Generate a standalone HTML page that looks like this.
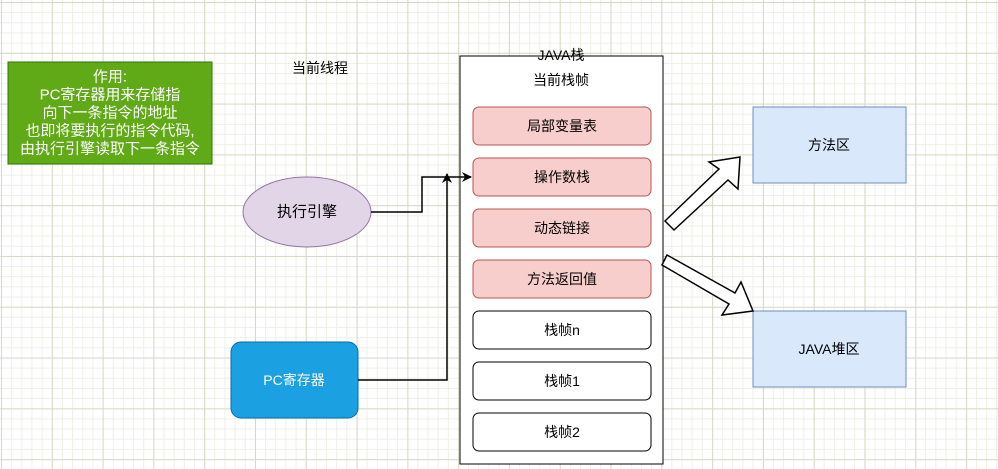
<!DOCTYPE html>
<html><head><meta charset="utf-8"><style>
body{margin:0;width:998px;height:469px;overflow:hidden;background:#fff;
background-image:linear-gradient(#d8d8c8 1px,transparent 1px),linear-gradient(90deg,#d8d8c8 1px,transparent 1px),linear-gradient(#efefe6 1px,transparent 1px),linear-gradient(90deg,#efefe6 1px,transparent 1px);
background-size:50.8px 50.8px,50.8px 50.8px,10.16px 10.16px,10.16px 10.16px;background-position:1px 2px,1px 2px,1px 2px,1px 2px;}
text{font-family:"Liberation Sans","Noto Sans CJK SC",sans-serif;font-size:14px;text-anchor:middle;dominant-baseline:central}
.g{font-size:15px}
</style></head><body>
<svg width="998" height="469" style="position:absolute;left:0;top:0">
<defs><marker id="a" markerWidth="10" markerHeight="10" refX="9" refY="5" orient="auto" markerUnits="userSpaceOnUse"><path d="M0,0 L10,5 L0,10 L3,5z" fill="#000"/></marker></defs>
<rect x="8" y="62" width="204" height="102" fill="#60a917" stroke="#2d7600"/>
<text class="g" x="110" y="77" fill="#fff">作用:</text>
<text class="g" x="110" y="95" fill="#fff">PC寄存器用来存储指</text>
<text class="g" x="110" y="113" fill="#fff">向下一条指令的地址</text>
<text class="g" x="110" y="131" fill="#fff">也即将要执行的指令代码,</text>
<text class="g" x="110" y="149" fill="#fff">由执行引擎读取下一条指令</text>
<text x="320" y="68">当前线程</text>
<ellipse cx="307" cy="212" rx="64" ry="35" fill="#e1d5e7" stroke="#9673a6"/>
<text class="g" x="307" y="212">执行引擎</text>
<rect x="231" y="342" width="127" height="76" rx="10" fill="#1ba1e2" stroke="#006eaf"/>
<text x="294" y="380" fill="#fff">PC寄存器</text>
<rect x="460" y="56" width="203" height="408" fill="#fff" stroke="#000"/>
<text x="561" y="55">JAVA栈</text>
<text x="561" y="80">当前栈帧</text>
<g fill="#f8cecc" stroke="#b85450">
<rect x="473" y="107" width="178" height="38" rx="6"/>
<rect x="473" y="158" width="178" height="38" rx="6"/>
<rect x="473" y="209" width="178" height="38" rx="6"/>
<rect x="473" y="260" width="178" height="38" rx="6"/>
</g>
<g fill="#fff" stroke="#000">
<rect x="473" y="311" width="178" height="38" rx="6"/>
<rect x="473" y="362" width="178" height="38" rx="6"/>
<rect x="473" y="413" width="178" height="38" rx="6"/>
</g>
<text x="562" y="126">局部变量表</text>
<text x="562" y="177">操作数栈</text>
<text x="562" y="228">动态链接</text>
<text x="562" y="279">方法返回值</text>
<text x="562" y="330">栈帧n</text>
<text x="562" y="381">栈帧1</text>
<text x="562" y="432">栈帧2</text>
<path d="M371,212 H422 V177 H471" fill="none" stroke="#000" stroke-width="1.5" marker-end="url(#a)"/>
<path d="M358,380 H447 V174" fill="none" stroke="#000" stroke-width="1.5" marker-end="url(#a)"/>
<rect x="753" y="107" width="153" height="76" fill="#dae8fc" stroke="#6c8ebf"/>
<text x="829" y="145">方法区</text>
<rect x="753" y="311" width="153" height="76" fill="#dae8fc" stroke="#6c8ebf"/>
<text x="829" y="349">JAVA堆区</text>
<path d="M665,221 L719,169 L709,162 L740,157 L738,189 L728,180 L674,230 Z" fill="#fff" stroke="#000" stroke-width="1.5"/>
<path d="M667,255 L735,293 L741,282 L753,311 L722,315 L729,304 L662,265 Z" fill="#fff" stroke="#000" stroke-width="1.5"/>
</svg>
</body></html>
